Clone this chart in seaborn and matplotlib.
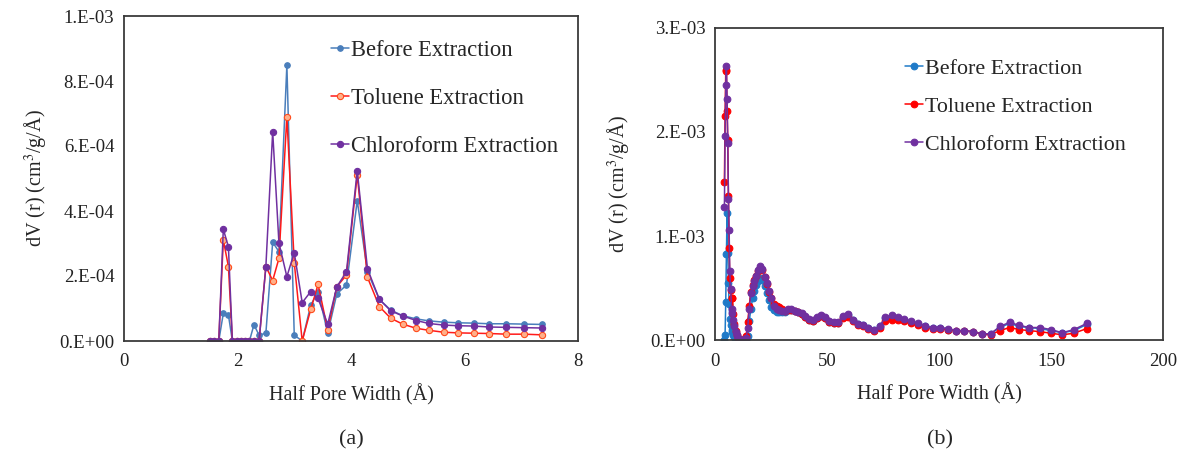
import numpy as np
import pandas as pd
import matplotlib
matplotlib.use("Agg")
import matplotlib.pyplot as plt
import seaborn as sns
from matplotlib.ticker import FuncFormatter, MultipleLocator

sns.set_style("white")
plt.rcParams['font.family'] = ['Liberation Serif', 'DejaVu Serif']
plt.rcParams['mathtext.fontset'] = 'stix'

# ---------------- data : panel (a) ----------------
x_a = [1.52, 1.59, 1.67, 1.75, 1.84, 1.91, 1.99, 2.06, 2.14, 2.21, 2.29, 2.38,
       2.50, 2.62, 2.73, 2.87, 3.00, 3.14, 3.29, 3.42, 3.59, 3.75, 3.92, 4.11,
       4.29, 4.50, 4.70, 4.91, 5.15, 5.37, 5.63, 5.89, 6.16, 6.44, 6.74, 7.05, 7.36]
before_a = [0, 0, 0, 0.085, 0.080, 0, 0, 0, 0, 0, 0.050, 0.018,
            0.024, 0.304, 0.275, 0.849, 0.018, 0.0, 0.110, 0.152, 0.024, 0.145, 0.172, 0.432,
            0.213, 0.128, 0.095, 0.078, 0.068, 0.062, 0.058, 0.056, 0.055, 0.053, 0.053, 0.052, 0.051]
toluene_a = [0, 0, 0, 0.311, 0.229, 0, 0, 0, 0, 0, 0, 0,
             0.229, 0.186, 0.254, 0.690, 0.241, 0.0, 0.097, 0.174, 0.034, 0.167, 0.203, 0.511,
             0.196, 0.106, 0.070, 0.052, 0.039, 0.033, 0.027, 0.025, 0.024, 0.023, 0.021, 0.021, 0.019]
chloro_a = [0, 0, 0, 0.344, 0.290, 0, 0, 0, 0, 0, 0, 0,
            0.229, 0.644, 0.302, 0.198, 0.272, 0.118, 0.152, 0.131, 0.052, 0.167, 0.213, 0.524,
            0.222, 0.128, 0.093, 0.077, 0.063, 0.054, 0.049, 0.047, 0.046, 0.043, 0.042, 0.041, 0.040]

# ---------------- data : panel (b) ----------------
x_b = [4.2, 4.5, 4.8, 5.1, 5.4, 5.7, 6.0, 6.3, 6.6, 7.0, 7.4, 7.8, 8.2, 8.7, 9.2, 9.7,
       10.2, 10.8, 11.4, 12.0, 12.6, 13.2, 13.9, 14.6, 15.3, 16.0, 16.8, 17.6, 18.4, 19.3,
       20.2, 21.1, 22.1, 23.1, 24.1, 25.2, 26.3, 27.5, 28.7, 30.0, 31.3, 32.7, 34.1, 35.6,
       37.1, 38.7, 40.3, 42.0, 43.7, 45.5, 47.3, 49.2, 51.1, 53.1, 55.1, 57.2, 59.3, 61.5,
       63.8, 66.1, 68.5, 71.0, 73.5, 76.1, 78.8, 81.6, 84.5, 87.5, 90.6, 93.8, 97.1, 100.5,
       104.0, 107.6, 111.3, 115.1, 119.0, 123.0, 127.2, 131.5, 135.9, 140.4, 145.1, 150.0,
       155.0, 160.2, 166.0]
chloro_b = [1.28, 1.96, 2.45, 2.63, 2.32, 1.89, 1.36, 1.06, 0.66, 0.49, 0.30, 0.26, 0.19, 0.13, 0.08, 0.05,
            0.02, 0.0, 0.0, 0.0, 0.0, 0.0, 0.02, 0.12, 0.30, 0.45, 0.52, 0.57, 0.62, 0.67,
            0.71, 0.68, 0.61, 0.55, 0.47, 0.40, 0.33, 0.30, 0.29, 0.28, 0.28, 0.30, 0.30, 0.28,
            0.27, 0.26, 0.23, 0.20, 0.19, 0.22, 0.24, 0.22, 0.18, 0.17, 0.17, 0.23, 0.25, 0.19,
            0.15, 0.14, 0.12, 0.10, 0.13, 0.22, 0.24, 0.22, 0.20, 0.18, 0.16, 0.13, 0.12, 0.12,
            0.11, 0.09, 0.09, 0.08, 0.06, 0.06, 0.13, 0.17, 0.14, 0.12, 0.12, 0.10,
            0.07, 0.10, 0.16]
toluene_b = [1.52, 2.15, 2.59, 2.60, 2.20, 1.92, 1.38, 0.88, 0.60, 0.48, 0.40, 0.40, 0.25, 0.15, 0.09, 0.05,
             0.02, 0.0, 0.0, 0.0, 0.0, 0.0, 0.04, 0.17, 0.33, 0.46, 0.53, 0.58, 0.62, 0.66,
             0.69, 0.67, 0.61, 0.54, 0.46, 0.40, 0.35, 0.33, 0.32, 0.30, 0.28, 0.29, 0.29, 0.28,
             0.27, 0.25, 0.22, 0.19, 0.18, 0.21, 0.23, 0.21, 0.17, 0.16, 0.16, 0.21, 0.22, 0.18,
             0.14, 0.13, 0.11, 0.09, 0.12, 0.18, 0.19, 0.19, 0.18, 0.16, 0.14, 0.12, 0.11, 0.11,
             0.10, 0.09, 0.09, 0.08, 0.06, 0.05, 0.09, 0.12, 0.10, 0.09, 0.08, 0.065,
             0.05, 0.065, 0.11]
before_b = [0.0, 0.05, 0.37, 0.83, 1.22, 0.84, 0.55, 0.35, 0.20, 0.14, 0.10, 0.08, 0.05, 0.03, 0.01, 0.0,
            0.0, 0.0, 0.0, 0.0, 0.0, 0.0, 0.0, 0.04, 0.18, 0.30, 0.40, 0.47, 0.53, 0.57,
            0.60, 0.58, 0.52, 0.45, 0.38, 0.32, 0.29, 0.27, 0.27, 0.27, 0.27, 0.29, 0.29, 0.28,
            0.27, 0.25, 0.22, 0.19, 0.18, 0.21, 0.23, 0.21, 0.17, 0.16, 0.16, 0.22, 0.24, 0.19,
            0.15, 0.14, 0.12, 0.10, 0.13, 0.21, 0.23, 0.21, 0.19, 0.17, 0.15, 0.13, 0.12, 0.12,
            0.10, 0.09, 0.09, 0.08, 0.06, 0.06, 0.12, 0.16, 0.13, 0.12, 0.11, 0.09,
            0.07, 0.09, 0.15]

labels = ["Before Extraction", "Toluene Extraction", "Chloroform Extraction"]

# ---------------- figure ----------------
fig = plt.figure(figsize=(11.89, 4.61), dpi=100)
ax1 = fig.add_axes([124/1189, 1 - 341/461, 454/1189, 325/461])
ax2 = fig.add_axes([715/1189, 1 - 340/461, 448/1189, 312/461])

def sci_fmt(v, pos):
    return format(v, '#.0E')

def draw(ax, x, series, styles, xlim, xstep, ylim, ystep, legend_anchor, lspacing, lfs, ylpad):
    for (vals, lab), st in zip(series, styles):
        df = pd.DataFrame({"x": x, "y": np.array(vals) * 1e-3})
        sns.lineplot(data=df, x="x", y="y", ax=ax, sort=False, estimator=None,
                     color=st["line"], linewidth=1.1, marker="o",
                     markersize=st["ms"], markerfacecolor=st["face"],
                     markeredgecolor=st["edge"], markeredgewidth=0.8, label=lab)
    ax.set_xlim(*xlim)
    ax.set_ylim(*ylim)
    ax.xaxis.set_major_locator(MultipleLocator(xstep))
    ax.yaxis.set_major_locator(MultipleLocator(ystep))
    ax.yaxis.set_major_formatter(FuncFormatter(sci_fmt))
    ax.tick_params(axis='both', labelsize=13.5, length=0, colors='#222222')
    ax.tick_params(axis='x', pad=9)
    ax.tick_params(axis='y', pad=7)
    for s in ax.spines.values():
        s.set_visible(True)
        s.set_color('#3a3a3a')
        s.set_linewidth(1.3)
    ax.set_xlabel("Half Pore Width (Å)", fontsize=14.5, labelpad=10)
    ax.set_ylabel("dV (r) (cm$^3$/g/Å)", fontsize=14.5, labelpad=ylpad)
    ax.grid(False)
    leg = ax.legend(loc="upper left", bbox_to_anchor=legend_anchor, frameon=False,
                    fontsize=lfs, handlelength=0.8, handletextpad=0.12,
                    labelspacing=lspacing, borderaxespad=0)
    return leg

styles_a = [dict(line="#4a7ebb", face="#4a7ebb", edge="#4a7ebb", ms=4),
            dict(line="#ff1a1a", face="#ffb08a", edge="#ff4a1a", ms=4.5),
            dict(line="#7030a0", face="#7030a0", edge="#7030a0", ms=4.5)]
styles_b = [dict(line="#1f7ac8", face="#1f7ac8", edge="#1f7ac8", ms=4.8),
            dict(line="#ff0000", face="#ff0000", edge="#ff0000", ms=4.8),
            dict(line="#7030a0", face="#7030a0", edge="#7030a0", ms=4.8)]

draw(ax1, x_a, [(before_a, labels[0]), (toluene_a, labels[1]), (chloro_a, labels[2])],
     styles_a, (0, 8), 2, (0, 1e-3), 2e-4, (0.435, 0.955), 1.2, 16.3, 7)
draw(ax2, x_b, [(before_b, labels[0]), (toluene_b, labels[1]), (chloro_b, labels[2])],
     styles_b, (0, 200), 50, (0, 3e-3), 1e-3, (0.405, 0.93), 0.8, 15.8, 13)

fig.text(351/1189, 1 - 440/461, "(a)", ha="center", va="center", fontsize=16)
fig.text(940/1189, 1 - 440/461, "(b)", ha="center", va="center", fontsize=16)

fig.savefig("out.png", dpi=100, facecolor="white")
